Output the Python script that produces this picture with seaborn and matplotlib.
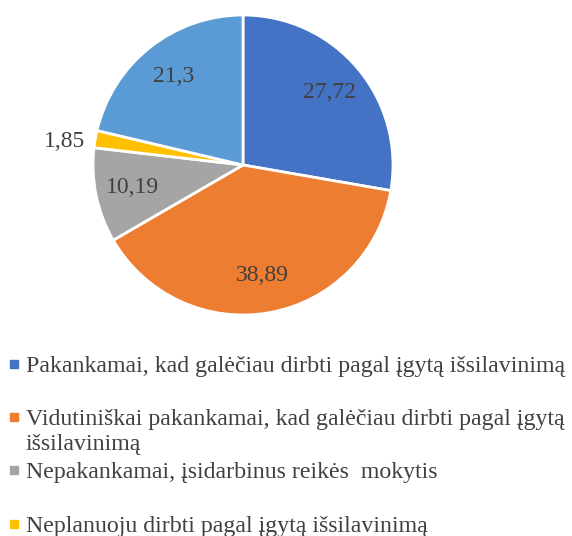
import matplotlib
matplotlib.use("Agg")
import matplotlib.pyplot as plt
import seaborn as sns
from matplotlib.patches import Rectangle

# data
categories = [
    "Pakankamai, kad galėčiau dirbti pagal įgytą išsilavinimą",
    "Vidutiniškai pakankamai, kad galėčiau dirbti pagal įgytą\nišsilavinimą",
    "Nepakankamai, įsidarbinus reikės  mokytis",
    "Neplanuoju dirbti pagal įgytą išsilavinimą",
    "Kita",
]
values = [27.72, 38.89, 10.19, 1.85, 21.3]
value_labels = ["27,72", "38,89", "10,19", "1,85", "21,3"]
colors = ["#4472C4", "#ED7D31", "#A5A5A5", "#FFC000", "#5B9BD5"]

sns.set_theme(style="white")
plt.rcParams["font.family"] = ["Liberation Serif", "DejaVu Serif"]
txt_color = "#404040"

W, H = 572, 536
fig = plt.figure(figsize=(W / 100, H / 100), dpi=100)

# pie: centre ~ (243,165) px, radius ~150 px
cx, cy, r = 243, 165, 150
ax = fig.add_axes([(cx - r) / W, (H - cy - r) / H, 2 * r / W, 2 * r / H])
wedges, texts = ax.pie(
    values,
    colors=sns.color_palette(colors),
    labels=value_labels,
    labeldistance=0.75,
    startangle=90,
    counterclock=False,
    wedgeprops=dict(edgecolor="white", linewidth=2),
    textprops=dict(fontsize=17, color=txt_color),
)
for t in texts:
    t.set_ha("center")
    t.set_va("center")
# small slice label sits outside the pie
x, y = texts[3].get_position()
texts[3].set_position((x / 0.75 * 1.07, y / 0.75 * 1.07 - 0.03))
texts[3].set_ha("right")
ax.set_xlim(-1, 1)
ax.set_ylim(-1, 1)
ax.set_aspect("equal")
ax.axis("off")

# legend (last entry is cut off by the image border)
baselines = [372, 425, 478, 532]
for cat, col, yb in zip(categories[:4], colors[:4], baselines):
    for i, line in enumerate(cat.split("\n")):
        fig.text(26 / W, 1 - (yb + 25 * i) / H, line, fontsize=17.2,
                 color=txt_color, va="baseline", ha="left")
    fig.patches.append(Rectangle((10 / W, 1 - (yb - 4) / H), 8 / W, 8 / H,
                                 transform=fig.transFigure, color=col))

fig.savefig("out.png", dpi=100)
